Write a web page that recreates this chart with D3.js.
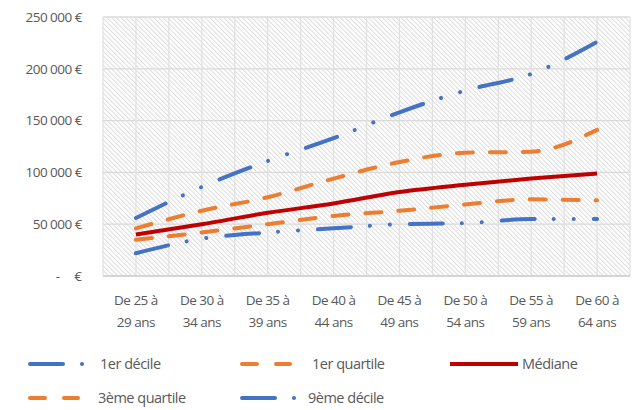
<!DOCTYPE html>
<html><head><meta charset="utf-8">
<script src="https://cdn.jsdelivr.net/npm/d3@7"></script>
<style>
html,body{margin:0;padding:0;background:#fff;}
svg text{font-family:"Open Sans","Liberation Sans",sans-serif;fill:#595959;}
</style></head>
<body><svg id="c" width="633" height="410"></svg>
<script>
const categories = ["De 25 à|29 ans","De 30 à|34 ans","De 35 à|39 ans","De 40 à|44 ans","De 45 à|49 ans","De 50 à|54 ans","De 55 à|59 ans","De 60 à|64 ans"];
const premierDecile   = [22000, 36000, 42000, 46000, 50000, 51000, 55000, 55000];
const premierQuartile = [35000, 42000, 50000, 58000, 63000, 69000, 74000, 73000];
const mediane         = [40000, 50000, 61000, 70000, 81000, 88000, 94000, 99000];
const troisiemeQuartile = [46000, 63000, 76000, 94000, 110000, 119000, 120000, 141000];
const neuviemeDecile  = [56000, 86000, 111000, 133000, 158000, 179000, 195000, 226000];
const yTicks = [0, 50000, 100000, 150000, 200000, 250000];
const seriesNames = ["1er décile","1er quartile","Médiane","3ème quartile","9ème décile"];

const blue = "#4472C4", orange = "#ED7D31", red = "#C00000";
const dashDot = "33,19,0.01,20,0.01,20";
const dashed = "16,17";
const series = [
  {name: seriesNames[0], values: premierDecile, color: blue, dash: dashDot, w: 4},
  {name: seriesNames[1], values: premierQuartile, color: orange, dash: dashed, w: 4},
  {name: seriesNames[2], values: mediane, color: red, dash: null, w: 4},
  {name: seriesNames[3], values: troisiemeQuartile, color: orange, dash: dashed, w: 4},
  {name: seriesNames[4], values: neuviemeDecile, color: blue, dash: dashDot, w: 4}
];

const svg = d3.select("#c");
const L = 103, R = 630, T = 17, B = 276;
const x = d3.scaleBand().domain(categories).range([L, R]).padding(0);
const y = d3.scaleLinear().domain([0, 250000]).range([B, T]);

const defs = svg.append("defs");
const pat = defs.append("pattern").attr("id","hatch").attr("patternUnits","userSpaceOnUse")
  .attr("width",3.3).attr("height",10).attr("patternTransform","rotate(-45)");
pat.append("rect").attr("width",3.3).attr("height",10).attr("fill","#fff");
pat.append("line").attr("x1",0.5).attr("y1",0).attr("x2",0.5).attr("y2",10)
  .attr("stroke","#dcdcdc").attr("stroke-width",1);

svg.append("rect").attr("x",L).attr("y",T).attr("width",R-L).attr("height",B-T).attr("fill","url(#hatch)");

// gridlines
const g = svg.append("g");
g.selectAll("line.h").data(yTicks).join("line")
  .attr("x1",L).attr("x2",R).attr("y1",d=>y(d)).attr("y2",d=>y(d))
  .attr("stroke","#dadada").attr("stroke-width",1.3);
const vgrid = [];
categories.forEach(c => { vgrid.push(x(c)); vgrid.push(x(c) + x.bandwidth()/2); });
vgrid.push(R);
g.selectAll("line.v").data(vgrid).join("line")
  .attr("x1",d=>d).attr("x2",d=>d).attr("y1",T).attr("y2",B)
  .attr("stroke","#e0e0e0").attr("stroke-width",1.2);
svg.append("line").attr("x1",L).attr("x2",R).attr("y1",B).attr("y2",B).attr("stroke","#d0d0d0").attr("stroke-width",1.5);

// y axis labels
const yl = svg.append("g");
yTicks.forEach(v => {
  if (v === 0) {
    yl.append("text").attr("x",82).attr("y",y(v)).attr("dy","0.35em").attr("text-anchor","end")
      .attr("font-size",13.5).text("€");
    yl.append("text").attr("x",58).attr("y",y(v)).attr("dy","0.35em").attr("text-anchor","middle")
      .attr("font-size",13.5).text("-");
  } else {
    yl.append("text").attr("x",82).attr("y",y(v)).attr("dy","0.35em").attr("text-anchor","end")
      .attr("font-size",13.5).attr("letter-spacing",-0.5).text(d3.format(",")(v).replace(/,/g, " ") + " €");
  }
});

// x labels
const xl = svg.append("g");
categories.forEach(c => {
  const [a, b] = c.split("|");
  const cx = x(c) + x.bandwidth()/2;
  xl.append("text").attr("x",cx).attr("y",300).attr("dy","0.35em").attr("text-anchor","middle").attr("font-size",13.5).attr("letter-spacing",-0.5).text(a);
  xl.append("text").attr("x",cx).attr("y",322).attr("dy","0.35em").attr("text-anchor","middle").attr("font-size",13.5).attr("letter-spacing",-0.5).text(b);
});

// lines
const line = d3.line().x((d,i)=>x(categories[i]) + x.bandwidth()/2).y(d=>y(d)).curve(d3.curveMonotoneX);
series.forEach(s => {
  svg.append("path").attr("d", line(s.values)).attr("fill","none")
    .attr("stroke", s.color).attr("stroke-width", s.w)
    .attr("stroke-dasharray", s.dash).attr("stroke-linecap", s.dash ? "round" : "butt")
    .attr("stroke-linejoin","round");
});

// legend
const legendPos = [
  {lx: 28, tx: 100, y: 364},
  {lx: 240, tx: 312, y: 364},
  {lx: 450, tx: 522, y: 364},
  {lx: 28, tx: 98, y: 398},
  {lx: 240, tx: 308, y: 398}
];
series.forEach((s, i) => {
  const p = legendPos[i];
  if (s.dash === dashDot) {
    svg.append("line").attr("x1", p.lx + 2).attr("x2", p.lx + 35).attr("y1", p.y).attr("y2", p.y)
      .attr("stroke", s.color).attr("stroke-width", 4).attr("stroke-linecap","round");
    svg.append("circle").attr("cx", p.lx + 54).attr("cy", p.y).attr("r", 2).attr("fill", s.color);
  } else if (s.dash === dashed) {
    svg.append("line").attr("x1", p.lx + 2).attr("x2", p.lx + 50).attr("y1", p.y).attr("y2", p.y)
      .attr("stroke", s.color).attr("stroke-width", 4).attr("stroke-linecap","round")
      .attr("stroke-dasharray","15,19");
  } else {
    svg.append("line").attr("x1", p.lx).attr("x2", p.lx + 68).attr("y1", p.y).attr("y2", p.y)
      .attr("stroke", s.color).attr("stroke-width", 4);
  }
  svg.append("text").attr("x", p.tx).attr("y", p.y).attr("dy","0.35em").attr("font-size",14.5)
    .attr("letter-spacing",-0.5).text(s.name);
});
</script></body></html>
